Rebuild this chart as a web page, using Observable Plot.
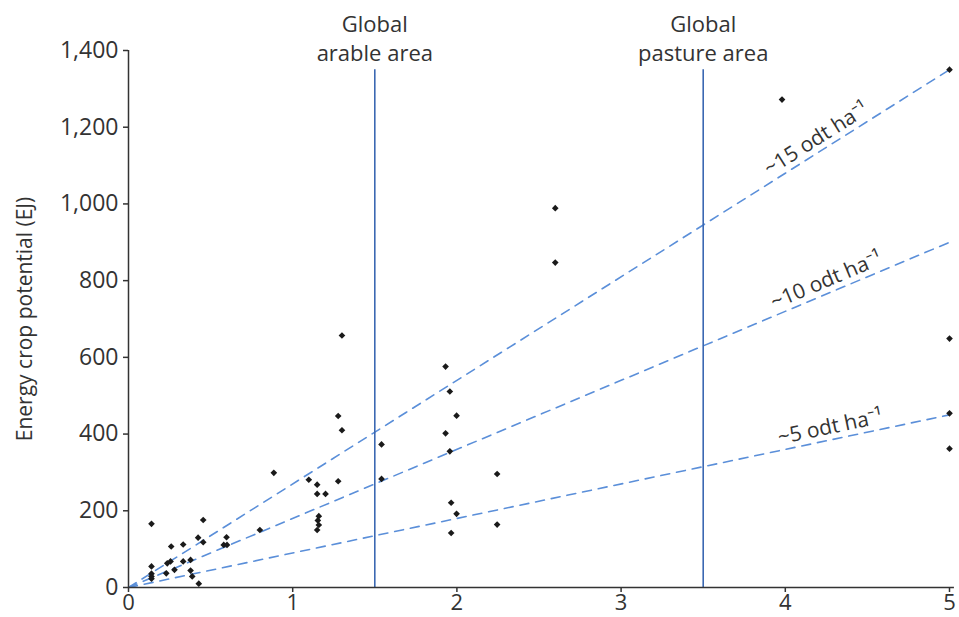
<!DOCTYPE html>
<html>
<head>
<meta charset="utf-8">
<script src="https://cdn.jsdelivr.net/npm/d3@7"></script>
<script src="https://cdn.jsdelivr.net/npm/@observablehq/plot@0.6"></script>
<style>
  html, body { margin: 0; padding: 0; background: #fff; }
  #chart svg { display: block; }
</style>
</head>
<body>
<div id="chart"></div>
<script>
// Land area (billion ha) and energy crop potential (EJ)
const pointX = [0.14,0.885,0.455,0.14,0.14,0.14,0.14,0.26,0.333,0.424,0.455,0.597,0.58,0.60,0.80,0.236,0.256,0.333,0.378,0.28,0.23,0.378,0.388,0.428,
  1.30,1.277,1.30,1.098,1.149,1.277,1.149,1.20,1.159,1.153,1.159,1.149,1.541,1.541,
  1.931,1.957,1.998,1.931,1.957,2.245,1.965,1.998,1.965,2.245,2.599,2.599,3.98,5.0,5.0,5.0,5.0];
const pointY = [166,299,176,55,36,29,23,107,112,130,118,131,111,111,150,63,68,68,72,46,37,44,29,10,
  657,447,410,281,268,277,244,244,186,175,163,150,373,283,
  576,511,448,402,355,296,221,192,142,164,989,847,1272,1350,649,454,362];

// Yield reference lines (odt per ha) and their value at x = 5
const yieldLabels = ["~5 odt ha⁻¹", "~10 odt ha⁻¹", "~15 odt ha⁻¹"];
const yieldEnd = [450, 900, 1350];
const yieldLabelX = [4.29, 4.28, 4.23];

// Vertical reference areas
const areaX = [1.5, 3.5];
const areaLabels = ["Global\narable area", "Global\npasture area"];
const areaTop = 1350;

const yTicks = [0, 200, 400, 600, 800, 1000, 1200, 1400];
const xTicks = [0, 1, 2, 3, 4, 5];

const points = pointX.map((x, i) => ({x, y: pointY[i]}));
const yieldLines = yieldEnd.flatMap((v, i) => [
  {k: i, x: 0, y: 0}, {k: i, x: 5, y: v}
]);

// screen geometry for rotated labels
const W = 959, H = 617, mL = 128, mR = 10, mT = 50, mB = 30;
const pxPerX = (W - mL - mR) / 5, pxPerY = (H - mT - mB) / 1400;
const yieldText = yieldEnd.map((v, i) => {
  const ang = Math.atan2(v / 5 * pxPerY, pxPerX) * 180 / Math.PI;
  return {x: yieldLabelX[i], y: v / 5 * yieldLabelX[i], t: yieldLabels[i], a: -ang,
    dx: -Math.sin(ang * Math.PI / 180) * 6, dy: -Math.cos(ang * Math.PI / 180) * 6};
});

const font = "'Open Sans', 'Noto Sans', sans-serif";
const ink = "#333";

const chart = Plot.plot({
  width: W, height: H,
  marginLeft: mL, marginRight: mR, marginTop: mT, marginBottom: mB,
  style: {fontFamily: font, fontSize: "22px", color: ink, background: "#fff", overflow: "visible"},
  x: {domain: [0, 5]},
  y: {domain: [0, 1400]},
  marks: [
    Plot.line(yieldLines, {x: "x", y: "y", z: "k", stroke: "#5b8fd9", strokeWidth: 1.6, strokeDasharray: "9,7"}),
    Plot.ruleX(areaX, {x: d => d, y1: 0, y2: areaTop, stroke: "#3b68b2", strokeWidth: 1.6}),
    Plot.text(areaX.map((x, i) => ({x, t: areaLabels[i]})), {x: "x", y: areaTop, text: "t", lineAnchor: "bottom", lineHeight: 1.3, dy: -9, fontSize: 22, fill: ink}),
    ...yieldText.map(d => Plot.text([d], {x: "x", y: "y", text: "t", rotate: d.a, textAnchor: "middle", lineAnchor: "bottom", dx: d.dx, dy: d.dy, fontSize: 21, fill: ink})),
    Plot.dot(points, {x: "x", y: "y", symbol: "diamond2", r: 3, fill: "#1a1a1a", stroke: "none"}),
    Plot.axisX({ticks: xTicks, tickSize: 5, tickPadding: 2, tickFormat: d => d, fontSize: 22, stroke: ink, strokeWidth: 1.5, label: null}),
    Plot.axisY({ticks: yTicks, tickSize: 5, tickPadding: 5, tickFormat: d3.format(","), fontSize: 23, stroke: ink, strokeWidth: 1.5, label: null}),
    Plot.ruleY([0], {stroke: ink, strokeWidth: 1.5, x1: 0, x2: 5.03, clip: false}),
    Plot.ruleX([0], {stroke: ink, strokeWidth: 1.5}),
    Plot.text(["Energy crop potential (EJ)"], {frameAnchor: "left", textAnchor: "middle", dx: -103, rotate: -90, text: d => d, fontSize: 21, fill: ink})
  ]
});
document.getElementById("chart").appendChild(chart);
</script>
</body>
</html>
